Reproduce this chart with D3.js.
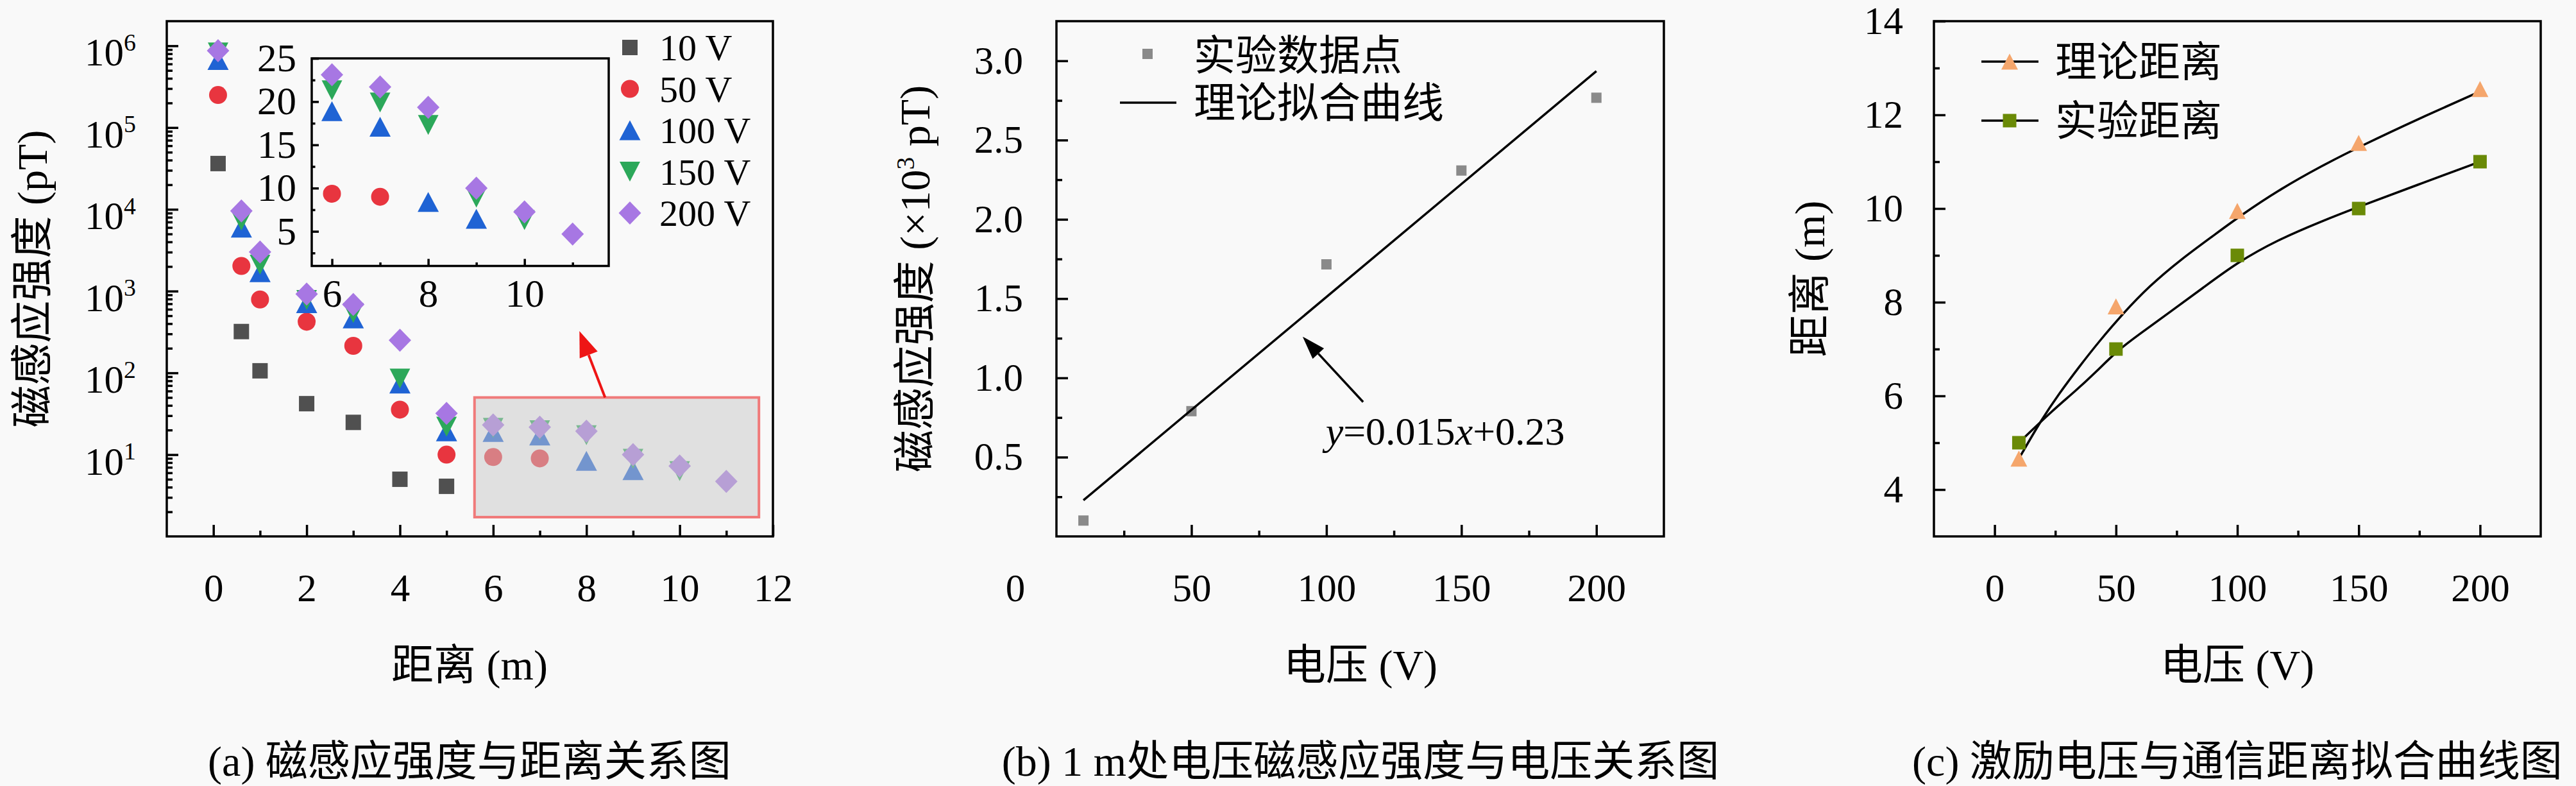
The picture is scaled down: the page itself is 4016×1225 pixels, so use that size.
<!DOCTYPE html>
<html>
<head>
<meta charset="utf-8">
<script src="https://cdn.jsdelivr.net/npm/d3@7"></script>
<style>
  html, body { margin: 0; padding: 0; background: #f9f9f9; }
  svg { display: block; }
</style>
</head>
<body>
<div id="chart"></div>
<script>
// Three panels: (a) field vs distance (log), (b) field at 1 m vs voltage, (c) range vs voltage.

// ---- panel (a) data ----
const seriesNames = ["10 V", "50 V", "100 V", "150 V", "200 V"];
const distances = [0.1, 0.6, 1, 2, 3, 4, 5, 6, 7, 8, 9, 10, 11];
const field10V = [36300, 320, 106, 42, 24.8, 5.0, 4.1];
const field50V = [250000, 2030, 790, 422, 214, 35.5, 10, 9.35, 9.0];
const field100V = [670000, 5970, 1700, 713, 464, 74, 19.3, 18.9, 17.1, 8.4, 6.45];
const field150V = [830000, 7300, 2100, 780, 540, 85, 22, 21.3, 19.9, 17.3, 8.9, 6.3];
const field200V = [870000, 9570, 3010, 920, 687, 251, 31.9, 23.1, 21.7, 19.35, 10.0, 7.25, 4.7];
const xTicksA = [0, 2, 4, 6, 8, 10, 12];
const yTicksA = [1e1, 1e2, 1e3, 1e4, 1e5, 1e6];
const insetXTicks = [6, 8, 10];
const insetYTicks = [5, 10, 15, 20, 25];
const zoomBoxX = [5.6, 11.7];
const zoomBoxY = [1.72, 50];

// ---- panel (b) data ----
const voltageB = [10, 50, 100, 150, 200];
const fieldAt1m = [0.10, 0.79, 1.716, 2.308, 2.767];
const fitLineX = [10, 200];
const fitLineY = [0.228, 2.935];
const xTicksB = [50, 100, 150, 200];
const yTicksB = [0.5, 1.0, 1.5, 2.0, 2.5, 3.0];

// ---- panel (c) data ----
const voltageC = [10, 50, 100, 150, 200];
const theoryDist = [4.66, 7.91, 9.95, 11.40, 12.55];
const expDist = [5.0, 7.0, 9.0, 10.0, 11.0];
const theoryCurveX = [10, 19.5, 26.6, 34.5, 43.3, 53.1, 63.6, 76.9, 90.1, 101.6, 116.6, 134.3, 151.9, 174, 200];
const theoryCurveY = [4.66, 5.51, 6.05, 6.6, 7.18, 7.77, 8.34, 8.92, 9.42, 9.86, 10.38, 10.9, 11.36, 11.9, 12.5];
const expCurveX = [10, 23.9, 32.8, 41.6, 50.4, 59.2, 72.5, 85.7, 100, 116.6, 134.3, 150.1, 174, 200];
const expCurveY = [5.0, 5.69, 6.08, 6.5, 6.96, 7.3, 7.8, 8.3, 8.85, 9.33, 9.72, 10.04, 10.5, 11.0];
const xTicksC = [0, 50, 100, 150, 200];
const yTicksC = [4, 6, 8, 10, 12, 14];

const W = 4016, H = 1225;
const plotTop = 33, plotBottom = 836;
const FONT = "'Liberation Serif', 'Noto Sans CJK SC', serif";
const tickFont = 61, titleFont = 66;

const markerStyles = [
  { shape: "square", color: "#505050", w: 24, h: 24 },
  { shape: "circle", color: "#e8353f", w: 28, h: 28 },
  { shape: "up", color: "#1f63d4", w: 33, h: 31 },
  { shape: "down", color: "#2ca85a", w: 32, h: 31 },
  { shape: "diamond", color: "#a777e3", w: 35, h: 36 }
];

const svg = d3.select("#chart")
  .append("svg")
  .attr("width", W)
  .attr("height", H)
  .attr("viewBox", `0 0 ${W} ${H}`)
  .attr("font-family", FONT);

svg.append("rect").attr("width", W).attr("height", H).attr("fill", "#f9f9f9");

function markerPath(shape, w, h) {
  if (shape === "up") return `M0,${-h / 2}L${w / 2},${h / 2}L${-w / 2},${h / 2}Z`;
  if (shape === "down") return `M0,${h / 2}L${w / 2},${-h / 2}L${-w / 2},${-h / 2}Z`;
  if (shape === "diamond") return `M0,${-h / 2}L${w / 2},0L0,${h / 2}L${-w / 2},0Z`;
  if (shape === "square") return `M${-w / 2},${-h / 2}h${w}v${h}h${-w}Z`;
  const r = w / 2;
  return `M${r},0A${r},${r} 0 1,1 ${-r},0A${r},${r} 0 1,1 ${r},0Z`;
}

function drawMarkers(g, pts, style) {
  g.selectAll(null)
    .data(pts)
    .join("path")
    .attr("d", markerPath(style.shape, style.w, style.h))
    .attr("transform", d => `translate(${d[0]},${d[1]})`)
    .attr("fill", style.color);
}

// inward ticks on bottom and left, labels outside; the frame is drawn as a box
function bottomTicks(g, scale, y, major, minor, len, pad, fmt) {
  const ax = g.append("g")
    .attr("transform", `translate(0,${y})`)
    .call(d3.axisBottom(scale).tickValues(major).tickSize(-len).tickPadding(pad).tickFormat(fmt || d3.format("d")));
  ax.attr("font-family", FONT).attr("font-size", tickFont);
  ax.select(".domain").remove();
  ax.selectAll("line").attr("stroke-width", 3.5);
  const mi = g.append("g")
    .attr("transform", `translate(0,${y})`)
    .call(d3.axisBottom(scale).tickValues(minor).tickSize(-len / 2).tickFormat(() => ""));
  mi.select(".domain").remove();
  mi.selectAll("line").attr("stroke-width", 3.5);
  return ax;
}

function leftTicks(g, scale, x, major, minor, len, pad, fmt) {
  const ax = g.append("g")
    .attr("transform", `translate(${x},0)`)
    .call(d3.axisLeft(scale).tickValues(major).tickSize(-len).tickPadding(pad).tickFormat(fmt || d3.format("d")));
  ax.attr("font-family", FONT).attr("font-size", tickFont);
  ax.select(".domain").remove();
  ax.selectAll("line").attr("stroke-width", 3.5);
  const mi = g.append("g")
    .attr("transform", `translate(${x},0)`)
    .call(d3.axisLeft(scale).tickValues(minor).tickSize(-len / 2).tickFormat(() => ""));
  mi.select(".domain").remove();
  mi.selectAll("line").attr("stroke-width", 3.5);
  return ax;
}

function frame(g, x0, x1, y0, y1, sw) {
  g.append("rect")
    .attr("x", x0).attr("y", y0)
    .attr("width", x1 - x0).attr("height", y1 - y0)
    .attr("fill", "none").attr("stroke", "#000").attr("stroke-width", sw);
}

function arrow(g, x1, y1, x2, y2, color, sw, headLen, headW) {
  const ang = Math.atan2(y2 - y1, x2 - x1);
  const bx = x2 - headLen * Math.cos(ang), by = y2 - headLen * Math.sin(ang);
  g.append("line")
    .attr("x1", x1).attr("y1", y1).attr("x2", bx).attr("y2", by)
    .attr("stroke", color).attr("stroke-width", sw);
  const px = -Math.sin(ang) * headW / 2, py = Math.cos(ang) * headW / 2;
  g.append("path")
    .attr("d", `M${x2},${y2}L${bx + px},${by + py}L${bx - px},${by - py}Z`)
    .attr("fill", color);
}

function axisTitleX(g, cx, label) {
  g.append("text").attr("x", cx).attr("y", 1059)
    .attr("text-anchor", "middle").attr("font-size", titleFont).text(label);
}

function caption(g, cx, label) {
  g.append("text").attr("x", cx).attr("y", 1209)
    .attr("text-anchor", "middle").attr("font-size", titleFont).text(label);
}

// ================= panel (a) =================
const gA = svg.append("g");
const xA = d3.scaleLinear().domain([-1, 12]).range([260, 1205]);
const yA = d3.scaleLog().domain([1, 2e6]).range([plotBottom, plotTop]);

const minorLogA = [];
for (let k = 0; k <= 6; k++) {
  for (let m = 2; m <= 9; m++) {
    const v = m * Math.pow(10, k);
    if (v < 2e6) minorLogA.push(v);
  }
}

bottomTicks(gA, xA, plotBottom, xTicksA, [1, 3, 5, 7, 9, 11], 18, 58);
const yAxA = leftTicks(gA, yA, 260, yTicksA, minorLogA, 18, 48, () => "");
yAxA.selectAll(".tick text")
  .attr("dy", "0.5em")
  .each(function (d) {
    const t = d3.select(this);
    t.append("tspan").text("10");
    t.append("tspan").attr("dy", "-0.62em").attr("font-size", "0.62em").text(Math.round(Math.log10(d)));
  });
frame(gA, 260, 1205, plotTop, plotBottom, 3.5);

const seriesA = [field10V, field50V, field100V, field150V, field200V];
seriesA.forEach((vals, i) => {
  const pts = vals.map((v, j) => [xA(distances[j]), yA(v)]);
  drawMarkers(gA, pts, markerStyles[i]);
});

// shaded zoom box over the far points
gA.append("rect")
  .attr("x", xA(zoomBoxX[0])).attr("y", yA(zoomBoxY[1]))
  .attr("width", xA(zoomBoxX[1]) - xA(zoomBoxX[0]))
  .attr("height", yA(zoomBoxY[0]) - yA(zoomBoxY[1]))
  .attr("fill", "#c8c8c8").attr("fill-opacity", 0.5)
  .attr("stroke", "#f07a7a").attr("stroke-width", 4);
arrow(gA, xA(8.4), yA(zoomBoxY[1]), xA(7.85), yA(325), "#ee1515", 4, 40, 30);

// inset on a linear scale
const xIn = d3.scaleLinear().domain([5.58, 11.75]).range([486, 949]);
const yIn = d3.scaleLinear().domain([1, 25]).range([414.5, 91]);
bottomTicks(gA, xIn, 414.5, insetXTicks, [7, 9, 11], 11, 20);
leftTicks(gA, yIn, 486, insetYTicks, [2.5, 7.5, 12.5, 17.5, 22.5], 11, 24);
frame(gA, 486, 949, 91, 414.5, 3.5);
seriesA.forEach((vals, i) => {
  const pts = [];
  vals.forEach((v, j) => { if (distances[j] >= 6) pts.push([xIn(distances[j]), yIn(v)]); });
  drawMarkers(gA, pts, markerStyles[i]);
});

// legend
const legendRow = 64.5;
seriesNames.forEach((name, i) => {
  const cy = 74 + i * legendRow;
  drawMarkers(gA, [[982, cy]], markerStyles[i]);
  gA.append("text").attr("x", 1028).attr("y", cy + 20)
    .attr("font-size", 58).text(name);
});

axisTitleX(gA, 732, "距离 (m)");
gA.append("text")
  .attr("transform", `translate(73,${(plotTop + plotBottom) / 2}) rotate(-90)`)
  .attr("text-anchor", "middle").attr("font-size", titleFont)
  .text("磁感应强度 (pT)");
caption(gA, 732, "(a) 磁感应强度与距离关系图");

// ================= panel (b) =================
const gB = svg.append("g");
const xB = d3.scaleLinear().domain([0, 225]).range([1647, 2594]);
const yB = d3.scaleLinear().domain([0, 3.25]).range([plotBottom, plotTop]);

bottomTicks(gB, xB, plotBottom, xTicksB, [25, 75, 125, 175], 18, 58);
gB.append("text")
  .attr("x", xB(0) - 64).attr("y", plotBottom + 58).attr("dy", "0.71em")
  .attr("text-anchor", "middle").attr("font-size", tickFont).text("0");
leftTicks(gB, yB, 1647, yTicksB, [0.25, 0.75, 1.25, 1.75, 2.25, 2.75], 18, 52, d3.format(".1f"));
frame(gB, 1647, 2594, plotTop, plotBottom, 3.5);

drawMarkers(gB, voltageB.map((v, i) => [xB(v), yB(fieldAt1m[i])]),
  { shape: "square", color: "#8a8a8a", w: 16, h: 16 });
gB.append("path")
  .datum(fitLineX.map((v, i) => [v, fitLineY[i]]))
  .attr("d", d3.line().x(d => xB(d[0])).y(d => yB(d[1])))
  .attr("fill", "none").attr("stroke", "#000").attr("stroke-width", 3.5);

arrow(gB, xB(113.6), yB(0.848), xB(91.2), yB(1.26), "#000", 3.5, 36, 24);
const eq = gB.append("text").attr("x", xB(99.7)).attr("y", 693).attr("font-size", 62);
eq.append("tspan").attr("font-style", "italic").text("y");
eq.append("tspan").text("=0.015");
eq.append("tspan").attr("font-style", "italic").text("x");
eq.append("tspan").text("+0.23");

drawMarkers(gB, [[1789, 84]], { shape: "square", color: "#8a8a8a", w: 16, h: 16 });
gB.append("text").attr("x", 1861).attr("y", 109).attr("font-size", 65).text("实验数据点");
gB.append("line").attr("x1", 1746).attr("x2", 1834).attr("y1", 160).attr("y2", 160)
  .attr("stroke", "#000").attr("stroke-width", 3.5);
gB.append("text").attr("x", 1861).attr("y", 183).attr("font-size", 65).text("理论拟合曲线");

axisTitleX(gB, 2121, "电压 (V)");
const ytB = gB.append("text")
  .attr("transform", `translate(1449,${(plotTop + plotBottom) / 2}) rotate(-90)`)
  .attr("text-anchor", "middle").attr("font-size", titleFont);
ytB.append("tspan").text("磁感应强度 (×10");
ytB.append("tspan").attr("dy", "-0.6em").attr("font-size", "0.6em").text("3");
ytB.append("tspan").attr("dy", "0.36em").text(" pT)");
caption(gB, 2121, "(b) 1 m处电压磁感应强度与电压关系图");

// ================= panel (c) =================
const gC = svg.append("g");
const xC = d3.scaleLinear().domain([-25, 225]).range([3015, 3961]);
const yC = d3.scaleLinear().domain([3, 14]).range([plotBottom, plotTop]);

bottomTicks(gC, xC, plotBottom, xTicksC, [25, 75, 125, 175], 18, 58);
leftTicks(gC, yC, 3015, yTicksC, [5, 7, 9, 11, 13], 18, 48);
frame(gC, 3015, 3961, plotTop, plotBottom, 3.5);

const theoryStyle = { shape: "up", color: "#f5a66c", w: 26, h: 25 };
const expStyle = { shape: "square", color: "#6a8a07", w: 21, h: 21 };
const curveLine = d3.line().x(d => xC(d[0])).y(d => yC(d[1])).curve(d3.curveBasis);

gC.append("path")
  .datum(theoryCurveX.map((v, i) => [v, theoryCurveY[i]]))
  .attr("d", curveLine)
  .attr("fill", "none").attr("stroke", "#000").attr("stroke-width", 3.5);
gC.append("path")
  .datum(expCurveX.map((v, i) => [v, expCurveY[i]]))
  .attr("d", curveLine)
  .attr("fill", "none").attr("stroke", "#000").attr("stroke-width", 3.5);
drawMarkers(gC, voltageC.map((v, i) => [xC(v), yC(theoryDist[i])]), theoryStyle);
drawMarkers(gC, voltageC.map((v, i) => [xC(v), yC(expDist[i])]), expStyle);

[["理论距离", theoryStyle, 96], ["实验距离", expStyle, 188]].forEach(([label, st, cy]) => {
  gC.append("line").attr("x1", 3089).attr("x2", 3178).attr("y1", cy).attr("y2", cy)
    .attr("stroke", "#000").attr("stroke-width", 3.5);
  drawMarkers(gC, [[3133, cy]], st);
  gC.append("text").attr("x", 3204).attr("y", cy + 23).attr("font-size", 65).text(label);
});

axisTitleX(gC, 3488, "电压 (V)");
gC.append("text")
  .attr("transform", `translate(2844,${(plotTop + plotBottom) / 2}) rotate(-90)`)
  .attr("text-anchor", "middle").attr("font-size", titleFont)
  .text("距离 (m)");
caption(gC, 3488, "(c) 激励电压与通信距离拟合曲线图");
</script>
</body>
</html>
